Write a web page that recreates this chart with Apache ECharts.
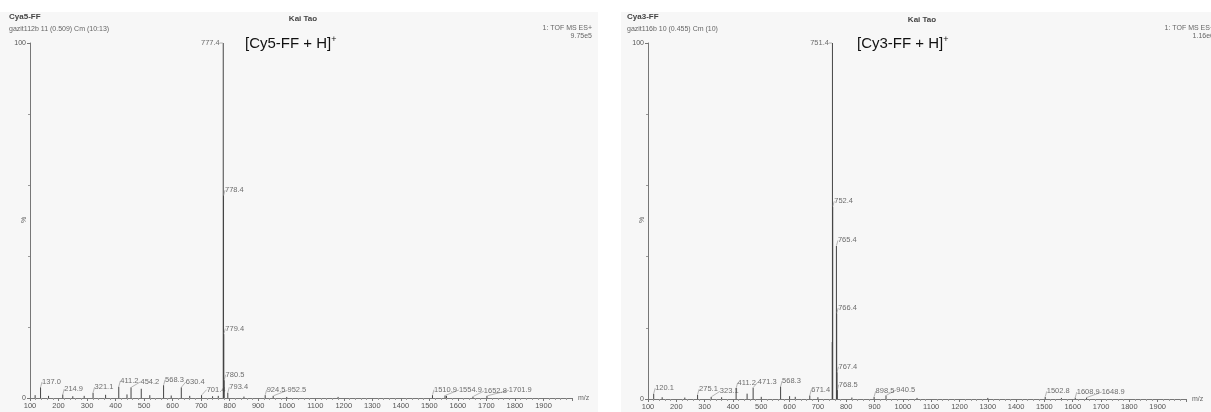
<!DOCTYPE html>
<html>
<head>
<meta charset="utf-8">
<script src="https://cdn.jsdelivr.net/npm/echarts@6/dist/echarts.min.js"></script>
<style>
  html, body { margin: 0; padding: 0; background: #fff; }
  #chart { width: 1211px; height: 412px; }
</style>
</head>
<body>
<div id="chart"></div>
<script>
// axis range (m/z) and relative intensity
var xMin = 100, xMax = 2000, xStep = 100;
var yMax = 100;

// Cy5-FF: labelled peaks, m/z and relative intensity (%)
var cy5Mz  = [137.0, 214.9, 321.1, 411.2, 454.2, 568.3, 630.4, 701.4, 777.4, 778.4, 779.4, 780.5, 793.4, 924.5, 952.5, 1510.9, 1554.9, 1652.8, 1701.9];
var cy5Int = [3, 1, 1.5, 3.2, 3, 3.6, 3, 0.8, 100, 57, 18, 5, 1.5, 0.8, 0.6, 0.8, 0.7, 0.4, 0.6];
// Cy5-FF: small unlabelled peaks
var cy5SmallMz  = [118, 165, 250, 290, 365, 440, 490, 520, 595, 660, 740, 760, 850, 1000, 1180, 1560];
var cy5SmallInt = [0.8, 0.6, 0.5, 0.6, 0.9, 1, 2.6, 0.8, 0.7, 0.6, 0.5, 0.6, 0.4, 0.3, 0.3, 0.6];

// Cy3-FF: labelled peaks
var cy3Mz  = [120.1, 275.1, 323.1, 411.2, 471.3, 568.3, 671.4, 751.4, 752.4, 765.4, 766.4, 767.4, 768.5, 898.5, 940.5, 1502.8, 1608.9, 1648.9];
var cy3Int = [1.5, 1.2, 0.6, 3, 3.2, 3.5, 1, 100, 54, 43, 24, 7.5, 2.5, 0.6, 1, 0.6, 0.4, 0.4];
// Cy3-FF: small unlabelled peaks
var cy3SmallMz  = [150, 230, 360, 450, 500, 600, 620, 700, 750.6, 820, 1050, 1300, 1560];
var cy3SmallInt = [0.5, 0.4, 0.5, 1.5, 0.6, 0.8, 0.6, 0.5, 16, 0.4, 0.3, 0.3, 0.3];

var font = '"Liberation Sans", Arial, sans-serif';
var ink = '#555';

function pairs(xs, ys) {
  return xs.map(function (x, i) { return [x, ys[i]]; });
}

function stick(params, api) {
  var top = api.coord([api.value(0), api.value(1)]);
  var base = api.coord([api.value(0), 0]);
  return {
    type: 'line',
    shape: { x1: top[0], y1: top[1], x2: base[0], y2: base[1] },
    style: { stroke: '#444', lineWidth: 1 }
  };
}

function peakLabels(xs, ys) {
  var maxI = ys.indexOf(Math.max.apply(null, ys));
  return xs.map(function (x, i) {
    var item = { value: [x, ys[i]] };
    if (i === maxI) {
      item.label = { position: 'left', distance: 3 };
    }
    return item;
  });
}

// push a label to the right until it clears the ones already placed
function makeLayout() {
  var placed = [];
  return function (p) {
    if (p.dataIndex === 0) placed = [];
    var r = p.labelRect;
    var x = r.x, y = r.y, w = r.width, h = r.height;
    var moved = true, guard = 0;
    while (moved && guard++ < 40) {
      moved = false;
      for (var k = 0; k < placed.length; k++) {
        var q = placed[k];
        if (x < q.x + q.w + 2 && x + w + 2 > q.x && y < q.y + q.h && y + h > q.y) {
          x = q.x + q.w + 2;
          moved = true;
        }
      }
    }
    placed.push({ x: x, y: y, w: w, h: h });
    return { dx: x - r.x };
  };
}

function xAxisFor(i) {
  return {
    type: 'value', gridIndex: i, min: xMin, max: xMax, interval: xStep,
    name: 'm/z', nameLocation: 'end', nameGap: 6,
    nameTextStyle: { fontSize: 7, color: '#666', fontFamily: font, verticalAlign: 'middle' },
    axisLine: { lineStyle: { color: '#777', width: 1 } },
    axisTick: { length: 3, lineStyle: { color: '#777' } },
    minorTick: { show: true, splitNumber: 5, length: 2, lineStyle: { color: '#999' } },
    axisLabel: {
      fontSize: 7.5, color: ink, fontFamily: font, margin: 4,
      showMinLabel: true, showMaxLabel: false,
      formatter: function (v) { return String(v); }
    },
    splitLine: { show: false }
  };
}

function yAxisFor(i) {
  return {
    type: 'value', gridIndex: i, min: 0, max: yMax, interval: yMax,
    axisLine: { show: true, lineStyle: { color: '#777', width: 1 } },
    axisTick: { show: true, length: 3, lineStyle: { color: '#777' } },
    minorTick: { show: true, splitNumber: 5, length: 2, lineStyle: { color: '#999' } },
    axisLabel: { fontSize: 7, color: ink, fontFamily: font, margin: 4 },
    splitLine: { show: false }
  };
}

function spectrum(i, mz, inten, smallMz, smallInt) {
  return [
    {
      type: 'custom', xAxisIndex: i, yAxisIndex: i,
      renderItem: stick, clip: true,
      data: pairs(mz, inten).concat(pairs(smallMz, smallInt))
    },
    {
      type: 'scatter', xAxisIndex: i, yAxisIndex: i,
      symbolSize: 1, itemStyle: { color: 'transparent' },
      silent: true,
      label: {
        show: true, position: [2, -9], color: '#4a4a4a', fontSize: 7.5, fontFamily: font,
        formatter: function (p) { return p.value[0].toFixed(1); }
      },
      labelLayout: makeLayout(),
      labelLine: { show: true, lineStyle: { color: '#888', width: 0.6 } },
      data: peakLabels(mz, inten)
    }
  ];
}

function txt(x, y, s, opts) {
  var st = Object.assign({ text: s, fill: '#555', font: '7px ' + font, textVerticalAlign: 'middle' }, opts || {});
  return { type: 'text', x: x, y: y, style: st, z: 10 };
}

var ionRich = { s: { fontSize: 9, fontFamily: font, fill: '#111', padding: [0, 0, 9, 0] } };

var chart = echarts.init(document.getElementById('chart'));
chart.setOption({
  backgroundColor: '#fff',
  animation: false,
  grid: [
    { left: 30, right: 639, top: 43, bottom: 14 },
    { left: 648, right: 25, top: 43, bottom: 13 }
  ],
  xAxis: [xAxisFor(0), xAxisFor(1)],
  yAxis: [yAxisFor(0), yAxisFor(1)],
  series: spectrum(0, cy5Mz, cy5Int, cy5SmallMz, cy5SmallInt)
    .concat(spectrum(1, cy3Mz, cy3Int, cy3SmallMz, cy3SmallInt)),
  graphic: [
    { type: 'rect', shape: { x: 0, y: 12, width: 598, height: 400 }, style: { fill: '#f7f7f7' }, z: -10 },
    { type: 'rect', shape: { x: 621, y: 12, width: 590, height: 400 }, style: { fill: '#f7f7f7' }, z: -10 },

    txt(9, 17, 'Cya5-FF', { font: 'bold 8px ' + font, fill: '#444' }),
    txt(9, 29, 'gazit112b 11 (0.509) Cm (10:13)', { fill: '#666' }),
    txt(303, 19, 'Kai Tao', { font: 'bold 8px ' + font, fill: '#444', textAlign: 'center' }),
    txt(245, 44, '[Cy5-FF + H]{s|+}', { font: '15px ' + font, fill: '#111', rich: ionRich }),
    txt(592, 28, '1: TOF MS ES+', { fill: '#666', textAlign: 'right' }),
    txt(592, 36, '9.75e5', { fill: '#666', textAlign: 'right' }),
    { type: 'text', x: 24, y: 220, rotation: Math.PI / 2, z: 10,
      style: { text: '%', fill: '#666', font: '7px ' + font, textAlign: 'center', textVerticalAlign: 'middle' } },

    txt(627, 17, 'Cya3-FF', { font: 'bold 8px ' + font, fill: '#444' }),
    txt(627, 29, 'gazit116b 10 (0.455) Cm (10)', { fill: '#666' }),
    txt(922, 20, 'Kai Tao', { font: 'bold 8px ' + font, fill: '#444', textAlign: 'center' }),
    txt(857, 44, '[Cy3-FF + H]{s|+}', { font: '15px ' + font, fill: '#111', rich: ionRich }),
    txt(1214, 28, '1: TOF MS ES+', { fill: '#666', textAlign: 'right' }),
    txt(1214, 36, '1.16e6', { fill: '#666', textAlign: 'right' }),
    { type: 'text', x: 642, y: 220, rotation: Math.PI / 2, z: 10,
      style: { text: '%', fill: '#666', font: '7px ' + font, textAlign: 'center', textVerticalAlign: 'middle' } }
  ]
});
</script>
</body>
</html>
